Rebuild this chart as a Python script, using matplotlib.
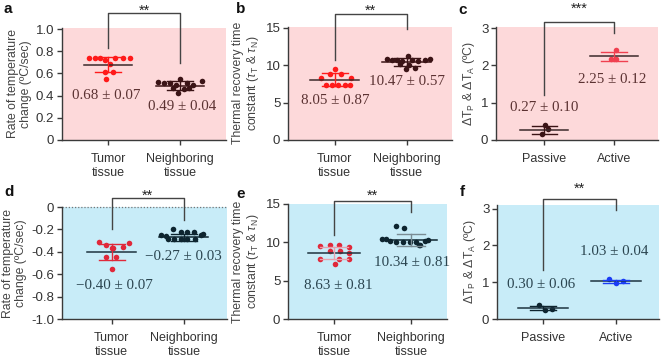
import matplotlib
matplotlib.use("Agg")
import matplotlib.pyplot as plt
import numpy as np

plt.rcParams['font.family'] = ['Liberation Sans', 'DejaVu Sans']
plt.rcParams['axes.unicode_minus'] = False
plt.rcParams['mathtext.fontset'] = 'custom'
plt.rcParams['mathtext.rm'] = 'Liberation Sans'
plt.rcParams['mathtext.it'] = 'Liberation Sans:italic'

# ---------------- data ----------------
tissue_cats = ["Tumor\ntissue", "Neighboring\ntissue"]
mode_cats = ["Passive", "Active"]

# panel a: rate of temperature change (heating)
a_tumor_off = [-0.27, -0.18, -0.11, 0.10, 0.21, 0.30, -0.04, 0.03, -0.04, 0.07, -0.03]
a_tumor_val = [0.74, 0.74, 0.74, 0.74, 0.74, 0.74, 0.72, 0.685, 0.61, 0.61, 0.55]
a_neigh_off = [-0.30, -0.22, -0.14, -0.05, 0.0, 0.10, 0.18, 0.30, -0.10, 0.05, 0.13, -0.03]
a_neigh_val = [0.52, 0.51, 0.51, 0.50, 0.55, 0.51, 0.50, 0.53, 0.47, 0.46, 0.47, 0.42]
a_mean = [0.68, 0.49]
a_sd = [0.07, 0.04]

# panel b: thermal recovery time constant
b_tumor_off = [0.0, -0.07, 0.09, -0.19, 0.22, -0.12, -0.04, 0.05, 0.14, 0.21]
b_tumor_val = [9.5, 8.9, 8.9, 8.3, 8.3, 7.3, 7.3, 7.3, 7.3, 7.4]
b_neigh_off = [-0.28, -0.21, -0.14, -0.07, 0.07, 0.16, 0.25, 0.32, 0.02, -0.09, 0.03, -0.01, 0.11]
b_neigh_val = [10.8, 10.7, 10.7, 10.6, 10.7, 10.6, 10.7, 10.8, 11.3, 10.2, 10.1, 9.5, 9.6]
b_mean = [8.05, 10.47]
b_sd = [0.87, 0.57]

# panel c: delta T (heating)
c_pass_off = [0.01, 0.06, -0.03]
c_pass_val = [0.40, 0.29, 0.16]
c_act_off = [0.03, -0.04, 0.03]
c_act_val = [2.42, 2.16, 2.17]
c_mean = [0.27, 2.25]
c_sd = [0.10, 0.12]

# panel d: rate of temperature change (cooling)
d_tumor_off = [-0.18, -0.08, 0.02, 0.16, 0.24, 0.0, -0.08, 0.06, 0.01]
d_tumor_val = [-0.31, -0.34, -0.37, -0.36, -0.32, -0.37, -0.45, -0.45, -0.55]
d_neigh_off = [-0.15, -0.04, 0.05, 0.14, -0.31, 0.26, -0.22, -0.13, -0.04, 0.05, 0.15, -0.25, 0.24]
d_neigh_val = [-0.20, -0.22, -0.225, -0.225, -0.25, -0.24, -0.29, -0.29, -0.29, -0.29, -0.29, -0.26, -0.25]
d_mean = [-0.40, -0.27]
d_sd = [0.07, 0.03]

# panel e: thermal recovery time constant (cooling)
e_tumor_off = [-0.18, -0.05, 0.07, 0.19, -0.05, 0.08, 0.20, -0.18, 0.07, 0.19, 0.01]
e_tumor_val = [9.5, 9.6, 9.6, 9.4, 8.9, 8.9, 8.6, 7.8, 7.8, 7.8, 7.2]
e_neigh_off = [-0.19, -0.09, -0.38, -0.33, -0.27, -0.19, -0.10, -0.01, 0.07, 0.18, 0.22, 0.12, 0.10]
e_neigh_val = [12.1, 11.9, 10.5, 10.4, 10.2, 10.0, 10.0, 10.0, 10.0, 10.2, 10.3, 9.6, 9.6]
e_mean = [8.63, 10.34]
e_sd = [0.81, 0.81]

# panel f: delta T (cooling)
f_pass_off = [-0.06, 0.03, 0.12]
f_pass_val = [0.37, 0.25, 0.27]
f_act_off = [-0.09, 0.0, 0.10]
f_act_val = [1.08, 0.98, 1.03]
f_mean = [0.30, 1.03]
f_sd = [0.06, 0.04]

# ---------------- styling ----------------
W, H = 669, 357
fig = plt.figure(figsize=(W / 100, H / 100), dpi=100)

PINK = '#fdd9da'
BLUE = '#c8ecf8'
SPINE = '#3a3a3a'
TXT = '#333333'


def add_axes(px_left, px_right, px_bottom, px_top):
    return fig.add_axes([px_left / W, 1 - px_bottom / H,
                         (px_right - px_left) / W, (px_bottom - px_top) / H])


def style(ax, bg, xlim, ylim, yticks, yticklabels, xticklabels, ylabel):
    ax.set_facecolor(bg)
    ax.set_xlim(*xlim)
    ax.set_ylim(*ylim)
    for s in ['top', 'right']:
        ax.spines[s].set_visible(False)
    for s in ['left', 'bottom']:
        ax.spines[s].set_color(SPINE)
        ax.spines[s].set_linewidth(1.0)
    ax.set_yticks(yticks)
    ax.set_yticklabels(yticklabels, fontsize=9.5, color=TXT)
    ax.set_xticks([1, 2])
    ax.set_xticklabels(xticklabels, fontsize=9, color=TXT, linespacing=1.15)
    ax.tick_params(axis='both', direction='out', length=3.5, width=1, color=SPINE)
    ax.tick_params(axis='y', pad=2)
    ax.tick_params(axis='x', pad=6)
    ax.set_ylabel(ylabel, fontsize=8.8, color='#444444', linespacing=1.1, labelpad=3)


def group(ax, xc, offs, vals, mean, sd, pcol, ecol, mcol):
    xs = xc + np.array(offs)
    ax.plot(xs, vals, 'o', color=pcol, ms=4.0, mew=0, zorder=3)
    ax.plot([xc - 0.34, xc + 0.34], [mean, mean], color=mcol, lw=1.1, zorder=4)
    ax.plot([xc, xc], [mean - sd, mean + sd], color=ecol, lw=1.0, zorder=4)
    for yv in (mean - sd, mean + sd):
        ax.plot([xc - 0.18, xc + 0.18], [yv, yv], color=ecol, lw=1.0, zorder=4)


def bracket(ax, ytop, yl, yr, ystar, stars):
    ax.plot([1, 1, 2, 2], [yl, ytop, ytop, yr], color='#444444', lw=1.0,
            clip_on=False, zorder=5)
    ax.text(1.5, ystar, stars, ha='center', va='baseline', fontsize=10.5,
            color='#222222', clip_on=False)


def label(ax, x, y, s, col):
    ax.text(x, y, s, ha='center', va='center', fontsize=10.8,
            family=['Liberation Serif', 'DejaVu Serif'], color=col)


TOPTXT = '#5b3232'
BOTTXT = '#2b4550'

# ---- panel a ----
ax = add_axes(62, 226, 140, 27.7)
style(ax, PINK, (0.36, 2.64), (0, 1.012), [0, 0.2, 0.4, 0.6, 0.8, 1.0],
      ['0', '0.2', '0.4', '0.6', '0.8', '1.0'], tissue_cats,
      'Rate of temperature\nchange (ºC/sec)')
group(ax, 1, a_tumor_off, a_tumor_val, a_mean[0], a_sd[0], '#ff1a1a', '#ff1a1a', '#3b2a2a')
group(ax, 2, a_neigh_off, a_neigh_val, a_mean[1], a_sd[1], '#3b1416', '#3b1416', '#3b1416')
bracket(ax, 1.144, 0.83, 0.69, 1.126, '**')
label(ax, 0.97, 0.405, f'{a_mean[0]:.2f} ± {a_sd[0]:.2f}', TOPTXT)
label(ax, 2.03, 0.30, f'{a_mean[1]:.2f} ± {a_sd[1]:.2f}', TOPTXT)

# ---- panel b ----
ax = add_axes(288, 452, 140, 26.5)
style(ax, PINK, (0.35, 2.63), (0, 15.2), [0, 5, 10, 15], ['0', '5', '10', '15'],
      tissue_cats, 'Thermal recovery time\nconstant ($\\tau_{\\mathrm{T}}$ & $\\tau_{\\mathrm{N}}$)')
group(ax, 1, b_tumor_off, b_tumor_val, b_mean[0], b_sd[0], '#ff1a1a', '#ff1a1a', '#3b2a2a')
group(ax, 2, b_neigh_off, b_neigh_val, b_mean[1], b_sd[1], '#3b1416', '#3b1416', '#3b1416')
bracket(ax, 16.87, 10.7, 14.9, 16.73, '**')
label(ax, 1.01, 5.35, f'{b_mean[0]:.2f} ± {b_sd[0]:.2f}', TOPTXT)
label(ax, 2.01, 7.8, f'{b_mean[1]:.2f} ± {b_sd[1]:.2f}', TOPTXT)

# ---- panel c ----
ax = add_axes(496, 658, 140, 27)
style(ax, PINK, (0.31, 2.63), (0, 3.03), [0, 1, 2, 3], ['0', '1', '2', '3'],
      mode_cats, '$\\Delta$T$_{\\mathrm{P}}$ & $\\Delta$T$_{\\mathrm{A}}$ (ºC)')
group(ax, 1, c_pass_off, c_pass_val, c_mean[0], c_sd[0], '#3b1416', '#3b1416', '#3b2a2a')
group(ax, 2, c_act_off, c_act_val, c_mean[1], c_sd[1], '#f04050', '#f04050', '#3b2a2a')
bracket(ax, 3.16, 1.2, 2.87, 3.40, '***')
label(ax, 1.0, 0.86, f'{c_mean[0]:.2f} ± {c_sd[0]:.2f}', TOPTXT)
label(ax, 1.98, 1.63, f'{c_mean[1]:.2f} ± {c_sd[1]:.2f}', TOPTXT)

# ---- panel d ----
ax = add_axes(62, 227, 319, 207)
style(ax, BLUE, (0.31, 2.6), (-1.0, 0), [-1.0, -0.8, -0.6, -0.4, -0.2, 0],
      ['-1.0', '-0.8', '-0.6', '-0.4', '-0.2', '0'], tissue_cats,
      'Rate of temperature\nchange (ºC/sec)')
ax.axhline(0, color='#777777', lw=0.9, ls=(0, (1, 1.5)), clip_on=False, zorder=2)
group(ax, 1, d_tumor_off, d_tumor_val, d_mean[0], d_sd[0], '#e0283a', '#e0283a', '#1e3440')
group(ax, 2, d_neigh_off, d_neigh_val, d_mean[1], d_sd[1], '#0e2530', '#0e2530', '#0e2530')
bracket(ax, 0.08, -0.2, -0.12, 0.0625, '**')
label(ax, 1.04, -0.70, f'{d_mean[0]:.2f} ± {d_sd[0]:.2f}'.replace('-', '−'), BOTTXT)
label(ax, 2.0, -0.44, f'{d_mean[1]:.2f} ± {d_sd[1]:.2f}'.replace('-', '−'), BOTTXT)

# ---- panel e ----
ax = add_axes(288, 447, 319, 204)
style(ax, BLUE, (0.40, 2.47), (0, 14.4), [0, 5, 10, 15], ['0', '5', '10', '15'],
      tissue_cats, 'Thermal recovery time\nconstant ($\\tau_{\\mathrm{T}}$ & $\\tau_{\\mathrm{N}}$)')
ax.spines['left'].set_bounds(0, 15)
for t in ax.yaxis.get_major_ticks():
    t.tick1line.set_clip_on(False)
group(ax, 1, e_tumor_off, e_tumor_val, e_mean[0], e_sd[0], '#e0283a', '#e8a0ac', '#1e3440')
group(ax, 2, e_neigh_off, e_neigh_val, e_mean[1], e_sd[1], '#0e2530', '#7a8c94', '#0e2530')
bracket(ax, 15.4, 10.9, 14.0, 15.5, '**')
label(ax, 1.05, 4.4, f'{e_mean[0]:.2f} ± {e_sd[0]:.2f}', BOTTXT)
label(ax, 2.02, 7.4, f'{e_mean[1]:.2f} ± {e_sd[1]:.2f}', BOTTXT)

# ---- panel f ----
ax = add_axes(497, 659, 319, 205)
style(ax, BLUE, (0.37, 2.59), (0, 3.1), [0, 1, 2, 3], ['0', '1', '2', '3'],
      mode_cats, '$\\Delta$T$_{\\mathrm{P}}$ & $\\Delta$T$_{\\mathrm{A}}$ (ºC)')
group(ax, 1, f_pass_off, f_pass_val, f_mean[0], f_sd[0], '#0e2530', '#0e2530', '#1e3440')
group(ax, 2, f_act_off, f_act_val, f_mean[1], f_sd[1], '#1a3cf5', '#1a3cf5', '#1e3440')
bracket(ax, 3.27, 1.34, 2.97, 3.44, '**')
label(ax, 0.97, 0.93, f'{f_mean[0]:.2f} ± {f_sd[0]:.2f}', BOTTXT)
label(ax, 1.97, 1.83, f'{f_mean[1]:.2f} ± {f_sd[1]:.2f}', BOTTXT)

# panel letters
for s, x, y in [('a', 8, 9), ('b', 241, 9), ('c', 463, 10),
                ('d', 9, 192), ('e', 241, 194), ('f', 462, 192)]:
    fig.text(x / W, 1 - y / H, s, fontsize=11, fontweight='bold',
             ha='center', va='center', color='#111111')

fig.savefig('out.png', dpi=100)
